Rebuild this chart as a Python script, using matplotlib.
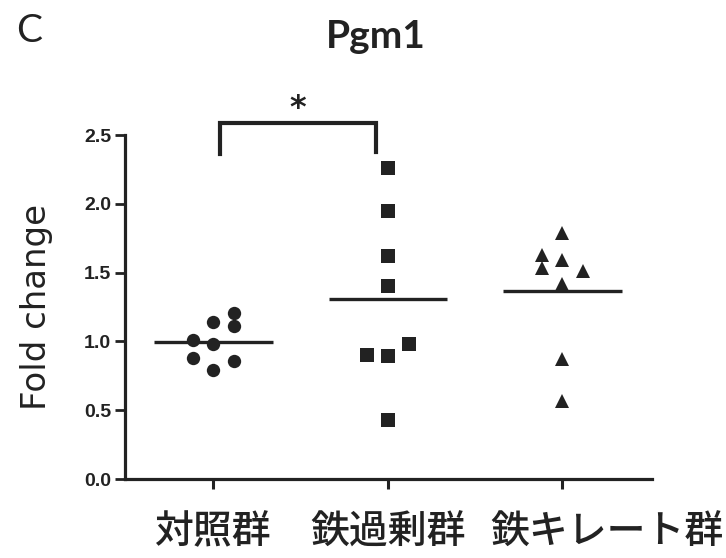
import numpy as np
import matplotlib
matplotlib.use("Agg")
import matplotlib.pyplot as plt
from matplotlib import transforms

# ---- data ----
groups = ['対照群', '鉄過剰群', '鉄キレート群']
control = [1.21, 1.14, 1.11, 1.01, 0.98, 0.88, 0.855, 0.79]
control_slot = [1, 0, 1, -1, 0, -1, 1, 0]
iron_overload = [2.26, 1.95, 1.62, 1.405, 0.98, 0.90, 0.895, 0.43]
overload_slot = [0, 0, 0, 0, 1, -1, 0, 0]
chelate = [1.79, 1.63, 1.59, 1.53, 1.51, 1.42, 0.87, 0.57]
chelate_slot = [0, -1, 0, -1, 1, 0, 0, 0]
yticks = [0.0, 0.5, 1.0, 1.5, 2.0, 2.5]
ytick_labels = ['0.0', '0.5', '1.0', '1.5', '2.0', '2.5']

series = [control, iron_overload, chelate]
slots = [control_slot, overload_slot, chelate_slot]
markers = ['o', 's', '^']
msizes = [9.6, 10.4, 10.6]
col = '#222222'

fig = plt.figure(figsize=(7.26, 5.58), dpi=100)
ax = fig.add_axes([125 / 726, (558 - 479) / 558, (652 - 125) / 726, (479 - 135) / 558])

jit = 0.12
for i, (vals, sl, mk, ms) in enumerate(zip(series, slots, markers, msizes)):
    xs = i + jit * np.array(sl)
    ax.plot(xs, vals, linestyle='none', marker=mk, markersize=ms,
            color=col, markeredgewidth=0, clip_on=False, zorder=3)
    m = np.mean(vals)
    ax.plot([i - 0.34, i + 0.34], [m, m], color=col, lw=2.4,
            solid_capstyle='butt', zorder=2)

ax.set_xlim(-0.507, 2.513)
ax.set_ylim(0, 2.5)
for s in ['top', 'right']:
    ax.spines[s].set_visible(False)
for s in ['left', 'bottom']:
    ax.spines[s].set_linewidth(2.3)
    ax.spines[s].set_color(col)

ax.set_yticks(yticks)
ax.set_yticklabels(ytick_labels, fontfamily='Liberation Sans',
                   fontweight='bold', fontsize=14, color=col)
ax.tick_params(axis='y', direction='out', length=7, width=2.0, pad=3, colors=col)

ax.set_xticks(range(len(groups)))
ax.set_xticklabels(groups, fontfamily=['Noto Sans CJK JP', 'DejaVu Sans'],
                   fontsize=28, fontweight='medium', color=col)
ax.tick_params(axis='x', direction='out', length=7, width=2.2, pad=17, colors=col)
lab = ax.get_xticklabels()[2]
lab.set_transform(lab.get_transform() +
                  transforms.ScaledTranslation(44 / 100, 0, fig.dpi_scale_trans))

ax.set_ylabel('Fold change', fontfamily='DejaVu Sans', fontsize=24.5, color=col,
              labelpad=22)

# significance bracket
bx0, bx1 = 0.04, 0.93
ax.plot([bx0, bx0, bx1, bx1], [2.36, 2.59, 2.59, 2.38], color=col, lw=3.0,
        clip_on=False, solid_joinstyle='miter')
ax.text(0.484, 2.69, '*', fontfamily='DejaVu Sans', fontsize=23,
        fontweight='bold', ha='center', va='center', color=col)

fig.text(376 / 726, 1 - 48 / 558, 'Pgm1', fontfamily='Lato', fontweight='bold',
         fontsize=28, ha='center', va='baseline', color=col)
fig.text(29 / 726, 1 - 31 / 558, 'C', fontfamily='Lato', fontsize=28,
         ha='center', va='center', color=col)

fig.savefig('out.png', dpi=100)
